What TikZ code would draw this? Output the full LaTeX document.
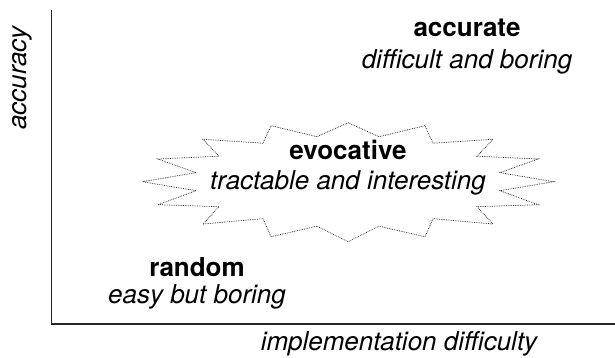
\documentclass[tikz,border=0pt]{standalone}
\usepackage{fontspec}
\setmainfont{TeX Gyre Heros}
\begin{document}
\begin{tikzpicture}[x=1pt,y=-1pt,
  axis/.style={line width=1.2pt,draw=black!85,line cap=rect},
  burst/.style={line width=0.75pt,draw=black!85,dash pattern=on 0.75pt off 1.0pt,line join=miter},
  title/.style={font=\fontsize{26}{30}\selectfont\bfseries,anchor=base,inner sep=0pt},
  sub/.style={font=\fontsize{26}{30}\selectfont\itshape,anchor=base,inner sep=0pt}]
\useasboundingbox (0,0) rectangle (615,358);

% axes
\coordinate (top) at (51.5,11);
\coordinate (origin) at (51.5,324);
\coordinate (right) at (615,324);
\draw[axis] (top) -- (origin) -- (right);

% axis labels
\node[sub,rotate=90] (ylab) at (27,78) {accuracy};
\node[sub] (xlab) at (399,350) {implementation difficulty};

% starburst around the middle label
\begin{scope}[shift={(348,181.7)}]
\draw[burst]
  (0,-59) -- (31,-45) -- (77,-56) -- (85,-38.5) -- (145,-42.4) -- (129,-25.5)
  -- (190,-22.7) -- (152,-9) -- (205.5,0) -- (152,9) -- (190,23) -- (129,25)
  -- (145,42.3) -- (85,37) -- (77,55) -- (31,44.5) -- (0,60)
  -- (-31,44.5) -- (-77,55) -- (-85,37) -- (-145,42.3) -- (-129,25)
  -- (-190,23) -- (-152,9) -- (-205.5,0) -- (-152,-9) -- (-190,-22.7)
  -- (-129,-25.5) -- (-145,-42.4) -- (-85,-38.5) -- (-77,-56) -- (-31,-45)
  -- cycle;
\end{scope}

% quadrant labels
\node[title] (acc) at (467,36.7) {accurate};
\node[sub] (accsub) at (467,68.3) {difficult and boring};

\node[title] (evo) at (348,159.3) {evocative};
\node[sub] (evosub) at (348,189.3) {tractable and interesting};

\node[title] (rnd) at (197,276.7) {random};
\node[sub] (rndsub) at (197,303.3) {easy but boring};
\end{tikzpicture}
\end{document}
